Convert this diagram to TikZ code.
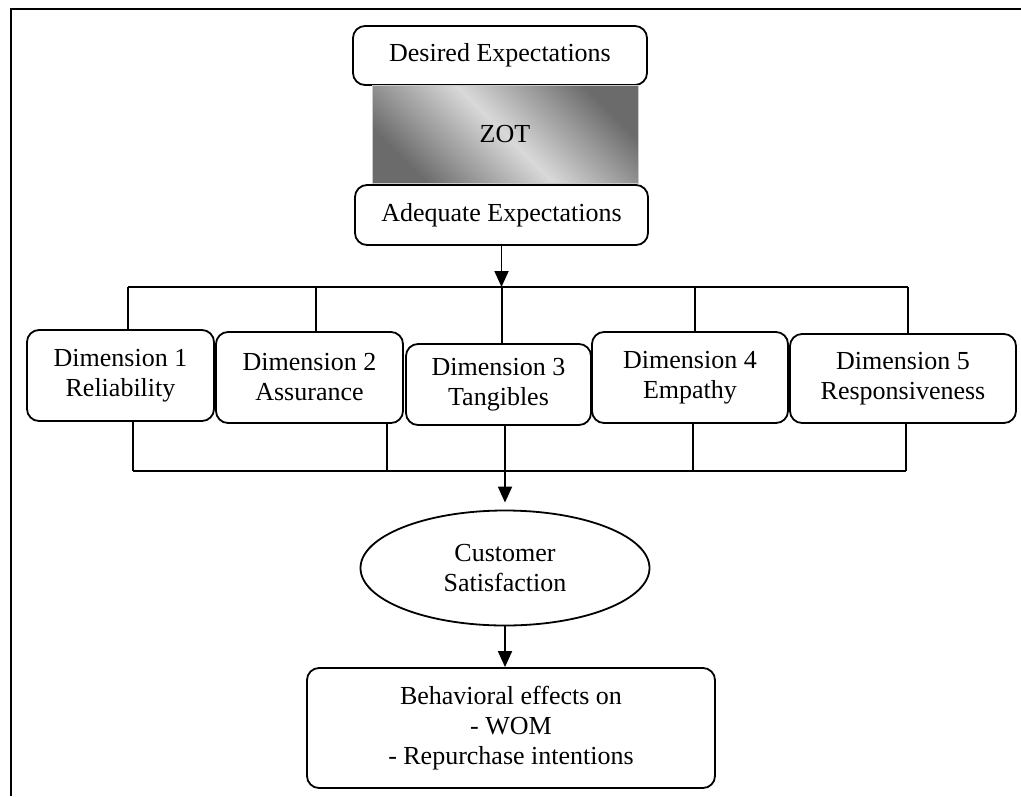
\documentclass[tikz,border=0pt]{standalone}
\usepackage{fontspec}
\setmainfont{Liberation Serif}
\usetikzlibrary{arrows.meta,shapes.geometric}
\tikzset{
  rbox/.style={draw, line width=1.8pt, rounded corners=12pt, align=center, inner sep=0pt},
  arr/.style={line width=1.8pt, -{Triangle[width=14pt,length=16pt]}},
  bus/.style={line width=1.8pt}
}
\begin{document}
\begin{tikzpicture}[x=1pt,y=-1pt,font=\fontsize{26}{30}\selectfont]
      \useasboundingbox (0,0) rectangle (1021,796);
      % frame
      \draw[line width=2.5pt] (11,796) -- (11,9) -- (1021,9);
      % expectations
      \node[rbox, minimum width=294pt, minimum height=59pt] (de) at (500,55.5) {Desired Expectations};
      \shade[top color=gray!45!black!75, bottom color=gray!45!black!75, middle color=gray!30, shading angle=-45]
        (372,85) rectangle (638,183);
      \draw[gray!40, line width=0.8pt] (372,85) rectangle (638,183);
      \node (zot) at (505,134) {ZOT};
      \node[rbox, fill=white, minimum width=293pt, minimum height=60pt] (ad) at (501.5,215) {Adequate Expectations};
      % dimensions
      \node[rbox, minimum width=187pt, minimum height=91pt] (d1) at (120.5,375.5) {Dimension 1\\Reliability};
      \node[rbox, minimum width=187pt, minimum height=91pt] (d2) at (309.5,377.5) {Dimension 2\\Assurance};
      \node[rbox, minimum width=185pt, minimum height=81pt] (d3) at (498.5,384.5) {Dimension 3\\Tangibles};
      \node[rbox, minimum width=196pt, minimum height=91pt] (d4) at (690,377.5) {Dimension 4\\Empathy};
      \node[rbox, minimum width=226pt, minimum height=89pt] (d5) at (903,378.5) {Dimension 5\\Responsiveness};
      % upper bus
      \coordinate (t1) at (128,287);
      \coordinate (t2) at (316,287);
      \coordinate (t3) at (502,287);
      \coordinate (t4) at (695,287);
      \coordinate (t5) at (908,287);
      \draw[arr] (ad.south) -- (ad.south |- t3);
      \draw[bus] (t1) -- (t5);
      \draw[bus] (t1) -- (t1 |- d1.north);
      \draw[bus] (t2) -- (t2 |- d2.north);
      \draw[bus] (t3) -- (t3 |- d3.north);
      \draw[bus] (t4) -- (t4 |- d4.north);
      \draw[bus] (t5) -- (t5 |- d5.north);
      % lower bus
      \coordinate (b1) at (133,471);
      \coordinate (b2) at (387,471);
      \coordinate (b3) at (505,471);
      \coordinate (b4) at (693,471);
      \coordinate (b5) at (906,471);
      \draw[bus] (b1) -- (b5);
      \draw[bus] (b1 |- d1.south) -- (b1);
      \draw[bus] (b2 |- d2.south) -- (b2);
      \draw[bus] (b3 |- d3.south) -- (b3);
      \draw[bus] (b4 |- d4.south) -- (b4);
      \draw[bus] (b5 |- d5.south) -- (b5);
      % satisfaction and effects
      \node[draw, ellipse, line width=1.8pt, inner sep=0pt, align=center, minimum width=289pt, minimum height=115pt] (cs) at (505,568) {Customer\\Satisfaction};
      \node[rbox, minimum width=408pt, minimum height=120pt] (bh) at (511,728) {Behavioral effects on\\- WOM\\- Repurchase intentions};
      \draw[arr, shorten >=7pt] (b3) -- (cs.north);
      \draw[arr] (cs.south) -- (cs.south |- bh.north);
\end{tikzpicture}
\end{document}
